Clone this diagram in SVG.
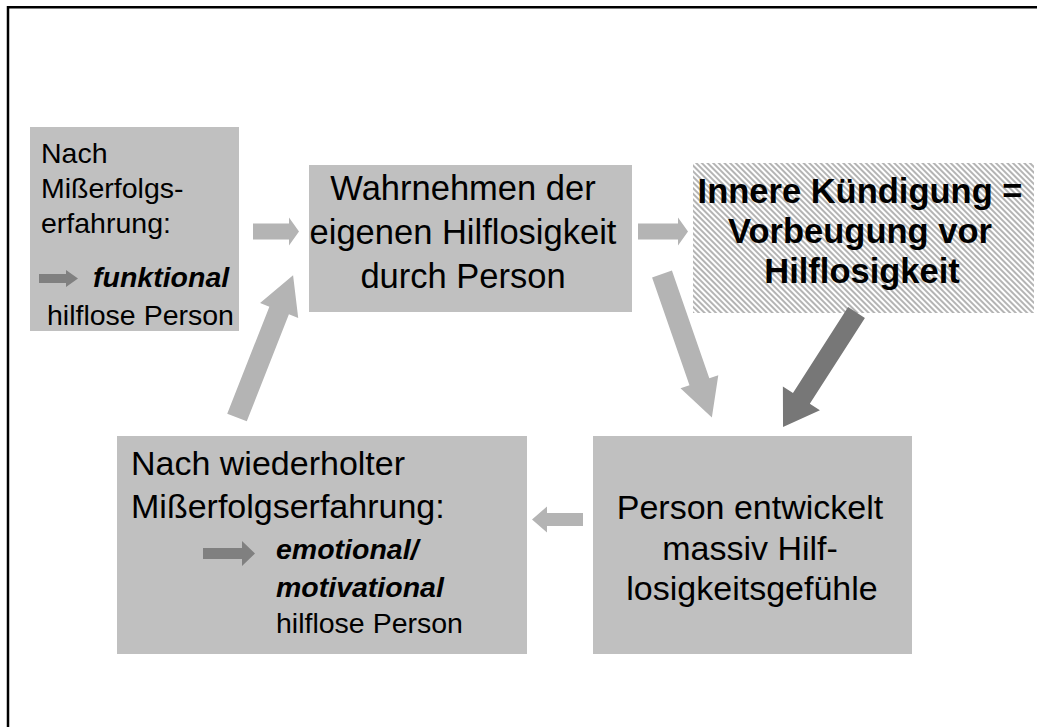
<svg xmlns="http://www.w3.org/2000/svg" width="1037" height="727" viewBox="0 0 1037 727">
  <defs>
    <!-- fine diagonal hatch used for the highlighted box -->
    <pattern id="hatch" width="4" height="4" patternUnits="userSpaceOnUse" patternTransform="rotate(-45)">
      <rect width="4" height="4" fill="#ffffff"/>
      <rect width="2" height="4" fill="#b4b4b4"/>
    </pattern>
    <style>
      .box { fill: #c0c0c0; }
      .t { font-family: "Liberation Sans", Arial, sans-serif; fill: #000; }
      .big { font-size: 34.5px; }
      .mid { font-size: 34px; }
      .small { font-size: 28.5px; }
      .bi { font-weight: bold; font-style: italic; }
      .b { font-weight: bold; }
      .c { text-anchor: middle; }
      .light { fill: #b4b4b4; }
      .dark { fill: #777777; }
      .inner { fill: #808080; }
    </style>
  </defs>

  <rect width="1037" height="727" fill="#ffffff"/>
  <!-- outer frame (top and left edges) -->
  <path d="M8,727 V7.2 H1037" fill="none" stroke="#000" stroke-width="2.5"/>

  <g id="node-funktional">
    <rect class="box" x="30" y="127" width="209" height="204"/>
    <text class="t small" x="41" y="163">Nach</text>
    <text class="t small" x="41" y="198">Mißerfolgs-</text>
    <text class="t small" x="41" y="233">erfahrung:</text>
    <polygon class="inner" points="39,274 66,274 66,270 78,278.5 66,287 66,283 39,283"/>
    <text class="t small bi" x="93" y="287">funktional</text>
    <text class="t small" x="47" y="325">hilflose Person</text>
  </g>

  <g id="node-wahrnehmen">
    <rect class="box" x="309" y="165" width="323" height="147"/>
    <text class="t big c" x="463" y="200">Wahrnehmen der</text>
    <text class="t big c" x="463" y="244">eigenen Hilflosigkeit</text>
    <text class="t big c" x="463" y="288">durch Person</text>
  </g>

  <g id="node-kuendigung">
    <rect x="693" y="163" width="341" height="150" fill="url(#hatch)"/>
    <text class="t big b c" x="860" y="203">Innere Kündigung =</text>
    <text class="t big b c" x="860" y="243">Vorbeugung vor</text>
    <text class="t big b c" x="862" y="283">Hilflosigkeit</text>
  </g>

  <g id="node-wiederholt">
    <rect class="box" x="117" y="436" width="410" height="218"/>
    <text class="t mid" x="131" y="475">Nach wiederholter</text>
    <text class="t mid" x="131" y="518">Mißerfolgserfahrung:</text>
    <polygon class="inner" points="203,548 242,548 242,541 255,553.5 242,566 242,559 203,559"/>
    <text class="t small bi" x="276" y="559">emotional/</text>
    <text class="t small bi" x="276" y="597">motivational</text>
    <text class="t small" x="276" y="633">hilflose Person</text>
  </g>

  <g id="node-gefuehle">
    <rect class="box" x="593" y="436" width="319" height="218"/>
    <text class="t mid c" x="750" y="519">Person entwickelt</text>
    <text class="t mid c" x="750" y="560">massiv Hilf-</text>
    <text class="t mid c" x="752" y="600">losigkeitsgefühle</text>
  </g>

  <g id="connectors">
    <!-- funktional -> Wahrnehmen -->
    <polygon class="light" points="253,223.5 289,223.5 289,217.5 299,231.5 289,245.5 289,239.5 253,239.5"/>
    <!-- Wahrnehmen -> Innere Kündigung -->
    <polygon class="light" points="638,223.5 678,223.5 678,217.5 688,231.5 678,245.5 678,239.5 638,239.5"/>
    <!-- Wahrnehmen -> Hilflosigkeitsgefühle -->
    <polygon class="light" points="0,-10.5 114,-10.5 114,-20 152,0 114,20 114,10.5 0,10.5" transform="translate(662,274) rotate(70.85)"/>
    <!-- Innere Kündigung -> Hilflosigkeitsgefühle -->
    <polygon class="dark" points="0,-10 102,-10 102,-22 136,0 102,22 102,10 0,10" transform="translate(856.5,312.5) rotate(122.7)"/>
    <!-- Hilflosigkeitsgefühle -> wiederholte Erfahrung -->
    <polygon class="light" points="583,513 547,513 547,506.5 532,519.5 547,532.5 547,526 583,526"/>
    <!-- wiederholte Erfahrung -> Wahrnehmen -->
    <polygon class="light" points="0,-10.5 115,-10.5 115,-20.5 153,0 115,20.5 115,10.5 0,10.5" transform="translate(237,417.5) rotate(-68.5)"/>
  </g>
</svg>
